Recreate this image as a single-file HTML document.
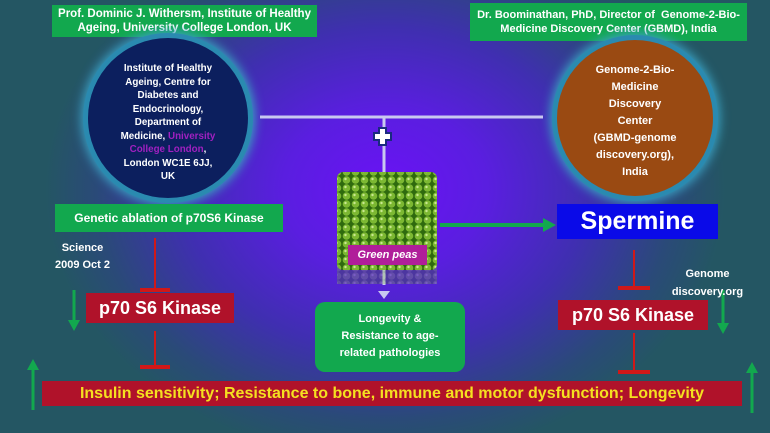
<!DOCTYPE html>
<html><head><meta charset="utf-8"><style>
body{margin:0}
#c{position:relative;width:770px;height:433px;overflow:hidden;font-family:"Liberation Sans",sans-serif;
background:radial-gradient(ellipse 340px 270px at 385px 190px,#6a12f5 0%,#5a1ee0 30%,#3f2fb0 60%,#2a4a78 85%,#245663 100%);}
.b{position:absolute;box-sizing:border-box;text-align:center;color:#fff;font-weight:bold}
.g{background:#12a84e}
.r{background:#b0122a}
</style></head><body><div id="c">
<div class="b g" style="left:52px;top:5px;width:265px;height:32px;font-size:11.5px;line-height:14px;padding-top:2px">Prof. Dominic J. Withersm, Institute of Healthy Ageing, University College London, UK</div>
<div class="b g" style="left:470px;top:3px;width:277px;height:38px;font-size:11px;line-height:14px;padding-top:5px">Dr. Boominathan, PhD, Director of&nbsp; Genome-2-Bio-Medicine Discovery Center (GBMD), India</div>
<div class="b" style="left:88px;top:38px;width:160px;height:160px;border-radius:50%;background:#0c1f5e;box-shadow:0 0 0 5px #2a8ab0,0 0 10px 7px #3aa0c0;font-size:9.8px;line-height:13.5px;padding-top:24px">Institute of Healthy<br>Ageing, Centre for<br>Diabetes and<br>Endocrinology,<br>Department of<br>Medicine, <span style="color:#a020c0">University<br>College London</span>,<br>London WC1E 6JJ,<br>UK</div>
<div class="b" style="left:557px;top:40px;width:156px;height:156px;border-radius:50%;background:#9a4a12;box-shadow:0 0 0 5px #2a8ab0,0 0 10px 7px #3aa0c0;font-size:11px;line-height:17px;padding-top:22px">Genome-2-Bio-<br>Medicine<br>Discovery<br>Center<br>(GBMD-genome<br>discovery.org),<br>India</div>
<svg width="770" height="433" style="position:absolute;left:0;top:0">
<defs><pattern id="p" width="9" height="8" patternUnits="userSpaceOnUse"><rect width="9" height="8" fill="#2f6a0e"/><circle cx="4.5" cy="4" r="3.8" fill="#7cb832"/><circle cx="3.5" cy="3" r="1.2" fill="#c8e890"/></pattern></defs>
<line x1="260" y1="117" x2="543" y2="117" stroke="#c8c8f0" stroke-width="3"/>
<line x1="384" y1="117" x2="384" y2="285" stroke="#c8c8f0" stroke-width="3"/>
<polygon points="378,291 390,291 384,299" fill="#c8c8f0"/>
<path d="M379,128h7v5h5v7h-5v5h-7v-5h-5v-7h5z" fill="#fff" stroke="#1a2a80" stroke-width="2"/>
<rect x="337" y="172" width="100" height="98" rx="6" fill="url(#p)"/>
<rect x="337" y="262" width="100" height="22" fill="url(#p)" opacity=".3"/>
<line x1="440" y1="225" x2="545" y2="225" stroke="#12a84e" stroke-width="4"/>
<polygon points="543,218 556,225 543,232" fill="#12a84e"/>
<g stroke="#d01818" stroke-width="2"><line x1="155" y1="238" x2="155" y2="290"/><line x1="140" y1="290" x2="170" y2="290" stroke-width="4"/>
<line x1="155" y1="331" x2="155" y2="367"/><line x1="140" y1="367" x2="170" y2="367" stroke-width="4"/>
<line x1="634" y1="250" x2="634" y2="288"/><line x1="618" y1="288" x2="650" y2="288" stroke-width="4"/>
<line x1="634" y1="333" x2="634" y2="372"/><line x1="618" y1="372" x2="650" y2="372" stroke-width="4"/></g>
<g stroke="#12a84e" stroke-width="3" fill="#12a84e">
<line x1="74" y1="290" x2="74" y2="322"/><polygon points="68,320 80,320 74,331" stroke="none"/>
<line x1="33" y1="368" x2="33" y2="410"/><polygon points="27,370 39,370 33,359" stroke="none"/>
<line x1="723" y1="290" x2="723" y2="325"/><polygon points="717,323 729,323 723,334" stroke="none"/>
<line x1="752" y1="371" x2="752" y2="413"/><polygon points="746,373 758,373 752,362" stroke="none"/></g>
</svg>
<div class="b" style="left:348px;top:245px;width:79px;height:20px;background:#b01e9a;font-style:italic;font-size:11px;line-height:20px">Green peas</div>
<div class="b g" style="left:55px;top:204px;width:228px;height:28px;font-size:12px;line-height:28px">Genetic ablation of p70S6 Kinase</div>
<div class="b" style="left:557px;top:204px;width:161px;height:35px;background:#0a0ae8;font-size:25px;line-height:35px">Spermine</div>
<div class="b" style="left:45px;top:240px;width:75px;font-size:11px;line-height:17px">Science<br>2009 Oct 2</div>
<div class="b" style="left:665px;top:265px;width:85px;font-size:11px;line-height:18px">Genome<br>discovery.org</div>
<div class="b r" style="left:86px;top:293px;width:148px;height:30px;font-size:18px;line-height:30px">p70 S6 Kinase</div>
<div class="b r" style="left:558px;top:300px;width:150px;height:30px;font-size:18px;line-height:30px">p70 S6 Kinase</div>
<div class="b g" style="left:315px;top:302px;width:150px;height:70px;border-radius:10px;font-size:11px;line-height:17px;padding-top:9px">Longevity &amp;<br>Resistance to age-<br>related pathologies</div>
<div class="b r" style="left:42px;top:381px;width:700px;height:25px;color:#f5e020;font-size:16px;line-height:25px">Insulin sensitivity; Resistance to bone, immune and motor dysfunction; Longevity</div>
</div></body></html>
